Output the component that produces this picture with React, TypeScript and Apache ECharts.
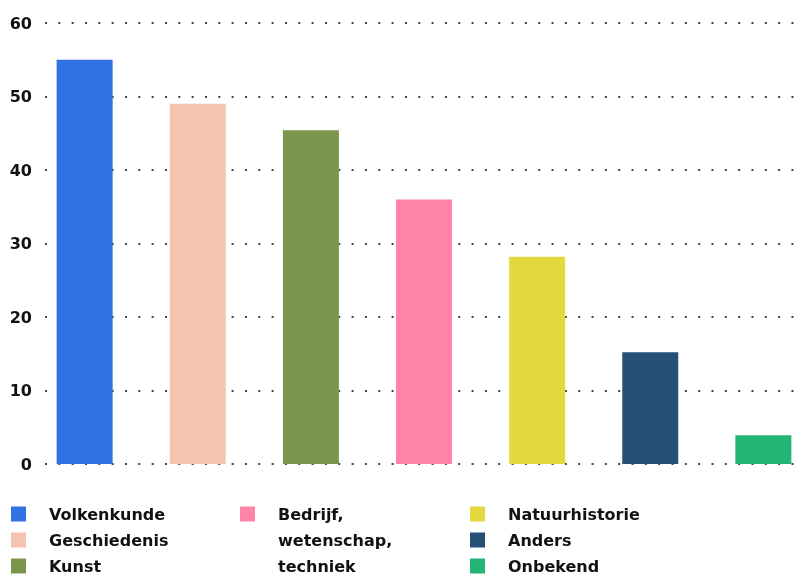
import React, { useEffect, useRef } from "react";
import * as echarts from "echarts";

const categories = ["Volkenkunde", "Geschiedenis", "Kunst", "Bedrijf, wetenschap, techniek", "Natuurhistorie", "Anders", "Onbekend"];
const values = [55, 49, 45.4, 36, 28.2, 15.2, 3.9];
const colors = ["#3071E3", "#F4C4B0", "#7A964D", "#FF85A8", "#E3D93E", "#265075", "#22B573"];
const yTicks = [0, 10, 20, 30, 40, 50, 60];

const FONT = "DejaVu Sans";

export default function App() {
  const ref = useRef<HTMLDivElement>(null);
  useEffect(() => {
    if (!ref.current) return;
    const chart = echarts.init(ref.current, null, { renderer: "svg" });
    const legendText = {
      fontFamily: FONT,
      fontWeight: "bold" as const,
      fontSize: 16,
      color: "#111",
      lineHeight: 26,
      padding: [0, 0, 0, 18],
    };
    const mkLegend = (names: string[], left: number, top: number, lead: string) => ({
      data: names,
      left,
      top,
      width: 220,
      height: 200,
      orient: "vertical",
      padding: 0,
      itemGap: 0,
      itemWidth: 15,
      itemHeight: 15,
      icon: "rect",
      selectedMode: false,
      textStyle: legendText,
      formatter: (n: string) => {
        const lines = n.split(/(?<=,) /);
        if (lines.length === 1) return n;
        return lead.repeat(lines.length - 1) + lines.join("\n");
      },
    });
    chart.setOption({
      animation: false,
      grid: { left: 45, right: 3, top: 23, bottom: 113, containLabel: false },
      xAxis: {
        type: "category",
        data: [""],
        axisLine: { show: false },
        axisTick: { show: false },
        axisLabel: { show: false },
      },
      yAxis: {
        type: "value",
        min: yTicks[0],
        max: yTicks[yTicks.length - 1],
        interval: 10,
        axisLine: { show: false },
        axisTick: { show: false },
        axisLabel: {
          margin: 13,
          fontFamily: FONT,
          fontWeight: "bold",
          fontSize: 16,
          color: "#111",
        },
        splitLine: {
          show: true,
          lineStyle: { color: "#444", width: 2, type: [2, 11.33] },
        },
      },
      legend: [
        mkLegend(categories.slice(0, 3), 11, 501, ""),
        mkLegend([categories[3]], 240, 449, "\n"),
        mkLegend(categories.slice(4), 470, 501, ""),
      ],
      series: categories.map((name, i) => ({
        name,
        type: "bar",
        data: [values[i]],
        barWidth: 56,
        barGap: "102%",
        itemStyle: { color: colors[i] },
      })),
    });
    return () => chart.dispose();
  }, []);
  return <div ref={ref} style={{ position: "fixed", left: 0, top: 0, width: 806, height: 577 }} />;
}
